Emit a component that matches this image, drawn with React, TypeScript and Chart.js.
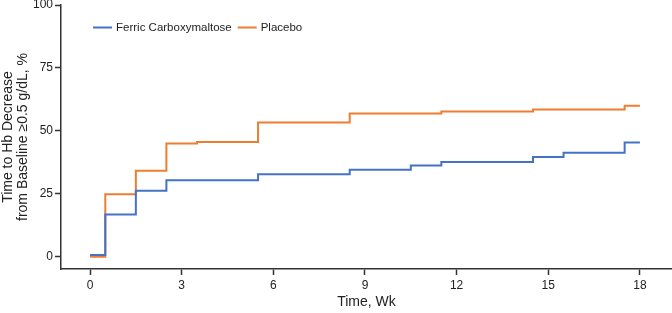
import React, { useEffect, useRef } from 'react';
import { Chart, registerables } from 'chart.js';

Chart.register(...registerables);

const seriesNames = ['Ferric Carboxymaltose', 'Placebo'];
const weeksFCM = [0, 0.5, 1.5, 2.5, 5.5, 8.5, 10.5, 11.5, 14.5, 15.5, 17.5, 18];
const valuesFCM = [0.7, 16.8, 26.2, 30.4, 32.7, 34.5, 36.2, 37.6, 39.6, 41.3, 45.4, 45.4];
const weeksPlacebo = [0, 0.5, 1.5, 2.5, 3.5, 5.5, 8.5, 11.5, 14.5, 17.5, 18];
const valuesPlacebo = [0, 24.8, 34.1, 45.0, 45.6, 53.3, 56.9, 57.7, 58.5, 60.0, 60.0];
const xTicks = [0, 3, 6, 9, 12, 15, 18];
const yTicks = [0, 25, 50, 75, 100];

const FONT = '"Liberation Sans", Arial, Helvetica, sans-serif';
const TEXT = '#222222';
const AXIS = '#333333';

const legendPlugin = {
  id: 'customLegend',
  afterDraw(chart: any) {
    const ctx = chart.ctx;
    ctx.save();
    ctx.font = `11.5px ${FONT}`;
    ctx.textBaseline = 'middle';
    ctx.textAlign = 'left';
    let x = 93;
    const y = 27.5;
    chart.data.datasets.forEach((ds: any) => {
      ctx.strokeStyle = ds.borderColor;
      ctx.lineWidth = 2;
      ctx.beginPath();
      ctx.moveTo(x, y);
      ctx.lineTo(x + 19, y);
      ctx.stroke();
      x += 23;
      ctx.fillStyle = TEXT;
      ctx.fillText(ds.label, x, y);
      x += ctx.measureText(ds.label).width + 6;
    });
    ctx.restore();
  },
};

export default function App() {
  const canvasRef = useRef<HTMLCanvasElement | null>(null);

  useEffect(() => {
    document.body.style.margin = '0';
    const canvas = canvasRef.current;
    if (!canvas) return;
    const chart = new Chart(canvas, {
      type: 'line',
      data: {
        datasets: [
          {
            label: seriesNames[0],
            data: weeksFCM.map((w, i) => ({ x: w, y: valuesFCM[i] })),
            borderColor: '#4472C4',
            backgroundColor: '#4472C4',
            borderWidth: 2,
            pointRadius: 0,
            stepped: 'before',
            fill: false,
          },
          {
            label: seriesNames[1],
            data: weeksPlacebo.map((w, i) => ({ x: w, y: valuesPlacebo[i] })),
            borderColor: '#ED7D31',
            backgroundColor: '#ED7D31',
            borderWidth: 2,
            pointRadius: 0,
            stepped: 'before',
            fill: false,
          },
        ],
      },
      options: {
        animation: false,
        responsive: true,
        maintainAspectRatio: false,
        layout: { padding: { top: 5, left: 0, right: 0, bottom: 0 } },
        plugins: {
          legend: { display: false },
          tooltip: { enabled: false },
        },
        scales: {
          x: {
            type: 'linear',
            min: -0.95,
            max: 19.05,
            afterBuildTicks: (s: any) => {
              s.ticks = xTicks.map((v) => ({ value: v }));
            },
            afterFit: (s: any) => {
              s.height = 44;
              s.paddingLeft = 0;
              s.paddingRight = 0;
            },
            grid: {
              display: true,
              drawOnChartArea: false,
              drawTicks: true,
              tickLength: 6,
              tickWidth: 1.5,
              tickColor: AXIS,
            },
            border: { display: true, color: AXIS, width: 1.5 },
            ticks: {
              color: TEXT,
              font: { family: FONT, size: 12 },
              padding: 3,
              maxRotation: 0,
            },
            title: {
              display: true,
              text: 'Time, Wk',
              color: TEXT,
              font: { family: FONT, size: 14 },
              padding: { top: 0, bottom: 2 },
            },
          },
          y: {
            type: 'linear',
            min: -4.9,
            max: 100,
            afterBuildTicks: (s: any) => {
              s.ticks = yTicks.map((v) => ({ value: v }));
            },
            afterFit: (s: any) => {
              s.width = 61;
              s.paddingTop = 0;
              s.paddingBottom = 0;
            },
            grid: {
              display: true,
              drawOnChartArea: false,
              drawTicks: true,
              tickLength: 6,
              tickWidth: 1.5,
              tickColor: AXIS,
            },
            border: { display: true, color: AXIS, width: 1.5 },
            ticks: {
              color: TEXT,
              font: { family: FONT, size: 12 },
              padding: 2,
            },
            title: {
              display: true,
              text: ['Time to Hb Decrease', 'from Baseline \u22650.5 g/dL, %'],
              color: TEXT,
              font: { family: FONT, size: 14, lineHeight: 1.1 },
              padding: { top: 0, bottom: 0 },
            },
          },
        },
      },
      plugins: [legendPlugin],
    });
    return () => chart.destroy();
  }, []);

  return (
    <div style={{ position: 'relative', width: 672, height: 313 }}>
      <canvas ref={canvasRef} />
    </div>
  );
}
